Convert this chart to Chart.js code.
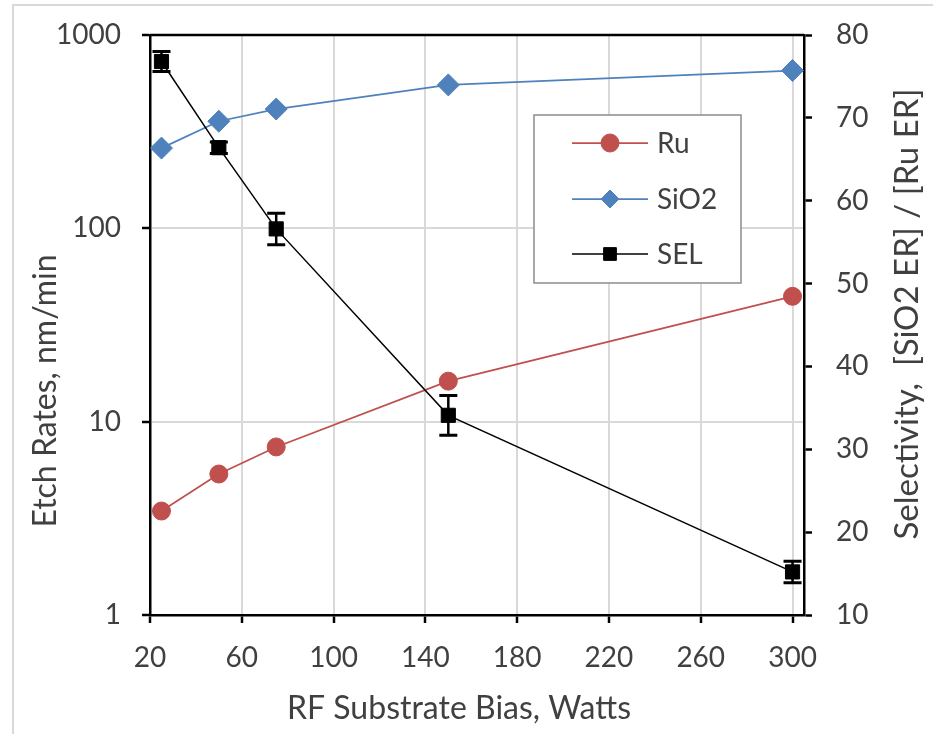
<!DOCTYPE html>
<html><head><meta charset="utf-8">
<script src="https://cdn.jsdelivr.net/npm/chart.js@4.4.0/dist/chart.umd.min.js"></script>
<style>html,body{margin:0;padding:0;background:#fff;}#wrap{width:933px;height:734px;position:relative;}</style>
</head><body><div id="wrap"><canvas id="c" width="933" height="734"></canvas></div>
<script>
// ---- data ----
const biasWatts = [25, 50, 75, 150, 300];
const ruEtch = [3.45, 5.36, 7.4, 16.2, 44.5];
const sio2Etch = [260, 358, 414, 552, 655];
const selectivity = [76.8, 66.4, 56.6, 34.1, 15.2];
const selectivityErr = [1.2, 0.7, 1.9, 2.4, 1.3];
const xTicks = [20, 60, 100, 140, 180, 220, 260, 300];
const etchTicks = [1, 10, 100, 1000];
const selTicks = [10, 20, 30, 40, 50, 60, 70, 80];
const seriesNames = ['Ru', 'SiO2', 'SEL'];
const xTitle = 'RF Substrate Bias, Watts';
const yTitle = 'Etch Rates, nm/min';
const y2Title = 'Selectivity,  [SiO2 ER] / [Ru ER]';

const FONT = 'Lato, "Open Sans", sans-serif';
const FS = 28;
const TXT = '#404040';
const pts = (ys) => biasWatts.map((x, i) => ({x: x, y: ys[i]}));
const noPad = s => { s.paddingTop = 0; s.paddingBottom = 0; s.paddingLeft = 0; s.paddingRight = 0; };

const errorBars = {
  id: 'errorBars',
  afterDatasetsDraw(chart) {
    const ctx = chart.ctx, xs = chart.scales.x, ys = chart.scales.y2;
    ctx.save();
    ctx.strokeStyle = '#000';
    biasWatts.forEach((xv, i) => {
      const px = xs.getPixelForValue(xv);
      const t = ys.getPixelForValue(selectivity[i] + selectivityErr[i]);
      const b = ys.getPixelForValue(selectivity[i] - selectivityErr[i]);
      ctx.lineWidth = 2.5;
      ctx.beginPath(); ctx.moveTo(px, t); ctx.lineTo(px, b); ctx.stroke();
      ctx.lineWidth = 3;
      ctx.beginPath();
      ctx.moveTo(px - 9, t); ctx.lineTo(px + 9, t);
      ctx.moveTo(px - 9, b); ctx.lineTo(px + 9, b);
      ctx.stroke();
    });
    ctx.restore();
  }
};

const decor = {
  id: 'decor',
  beforeDraw(chart) {
    const ctx = chart.ctx;
    ctx.save();
    ctx.fillStyle = '#fff';
    ctx.fillRect(0, 0, chart.width, chart.height);
    ctx.strokeStyle = '#d9d9d9';
    ctx.lineWidth = 2;
    ctx.beginPath();
    ctx.moveTo(13, chart.height); ctx.lineTo(13, 5); ctx.lineTo(chart.width, 5);
    ctx.stroke();
    ctx.restore();
  },
  afterDraw(chart) {
    const ctx = chart.ctx, a = chart.chartArea;
    ctx.save();
    // top border of plot
    ctx.strokeStyle = '#000'; ctx.lineWidth = 2.5;
    ctx.beginPath(); ctx.moveTo(a.left, a.top); ctx.lineTo(a.right, a.top); ctx.stroke();
    // titles
    ctx.fillStyle = TXT;
    ctx.textAlign = 'center'; ctx.textBaseline = 'middle';
    ctx.font = '32px ' + FONT;
    ctx.fillText(xTitle, 459, 709);
    ctx.save(); ctx.translate(46, 391); ctx.rotate(-Math.PI / 2); ctx.fillText(yTitle, 0, 0); ctx.restore();
    ctx.font = '33px ' + FONT;
    ctx.save(); ctx.translate(907, 314); ctx.rotate(-Math.PI / 2); ctx.fillText(y2Title, 0, 0); ctx.restore();
    // legend
    const bx = 534, by = 115, bw = 207, bh = 168;
    ctx.fillStyle = '#fff';
    ctx.fillRect(bx, by, bw, bh);
    ctx.strokeStyle = '#8c8c8c'; ctx.lineWidth = 1.5;
    ctx.strokeRect(bx, by, bw, bh);
    const rows = [143, 199, 254];
    chart.data.datasets.forEach((ds, i) => {
      const y = rows[i];
      ctx.strokeStyle = ds.borderColor; ctx.lineWidth = ds.borderWidth;
      ctx.beginPath(); ctx.moveTo(572, y); ctx.lineTo(648, y); ctx.stroke();
      ctx.fillStyle = ds.backgroundColor;
      ctx.strokeStyle = ds.borderColor;
      ctx.lineWidth = 1;
      Chart.helpers.drawPoint(ctx, {pointStyle: ds.pointStyle, radius: ds.legendRadius, borderWidth: 1}, 610, y);
      ctx.fillStyle = TXT;
      ctx.textAlign = 'left'; ctx.textBaseline = 'middle';
      ctx.font = FS + 'px ' + FONT;
      ctx.fillText(ds.label, 657, y + 1);
    });
    ctx.restore();
  }
};

new Chart(document.getElementById('c'), {
  type: 'line',
  data: {
    datasets: [
      {label: seriesNames[0], data: pts(ruEtch), yAxisID: 'y', borderColor: '#c0504d', backgroundColor: '#c0504d',
       pointStyle: 'circle', pointRadius: 9, legendRadius: 9, borderWidth: 1.75, pointBorderWidth: 1, order: 2},
      {label: seriesNames[1], data: pts(sio2Etch), yAxisID: 'y', borderColor: '#4f81bd', backgroundColor: '#4f81bd',
       pointStyle: 'rectRot', pointRadius: 11, legendRadius: 9, borderWidth: 1.75, pointBorderWidth: 1, order: 1},
      {label: seriesNames[2], data: pts(selectivity), yAxisID: 'y2', borderColor: '#000', backgroundColor: '#000',
       pointStyle: 'rect', pointRadius: 10, legendRadius: 9, borderWidth: 1.5, pointBorderWidth: 1, order: 0}
    ]
  },
  options: {
    responsive: false, devicePixelRatio: 1, animation: false,
    layout: {padding: {top: 35, left: 0, right: 0, bottom: 0}},
    plugins: {legend: {display: false}, tooltip: {enabled: false}},
    elements: {line: {tension: 0}},
    scales: {
      x: {
        type: 'linear', position: 'bottom', min: 20, max: 305,
        afterBuildTicks: s => { s.ticks = xTicks.map(v => ({value: v})); },
        afterFit: s => { s.height = 119; noPad(s); },
        grid: {color: '#d9d9d9', lineWidth: 2, tickColor: '#000', tickLength: 8, tickWidth: 2.5},
        border: {color: '#000', width: 2.5},
        ticks: {font: {family: FONT, size: FS}, color: TXT, padding: 18, maxRotation: 0, callback: v => String(v)}
      },
      y: {
        type: 'logarithmic', position: 'left', min: 1, max: 1000,
        afterBuildTicks: s => { s.ticks = etchTicks.map(v => ({value: v})); },
        afterFit: s => { s.width = 150; noPad(s); },
        grid: {color: '#d9d9d9', lineWidth: 2, tickColor: '#000', tickLength: 8, tickWidth: 2.5},
        border: {color: '#000', width: 2.5},
        ticks: {font: {family: FONT, size: FS}, color: TXT, padding: 21, callback: v => String(v)}
      },
      y2: {
        type: 'linear', position: 'right', min: 10, max: 80,
        afterBuildTicks: s => { s.ticks = selTicks.map(v => ({value: v})); },
        afterFit: s => { s.width = 129; noPad(s); },
        grid: {drawOnChartArea: false, tickColor: '#000', tickLength: 8, tickWidth: 2.5},
        border: {color: '#000', width: 2.5},
        ticks: {font: {family: FONT, size: FS}, color: TXT, padding: 24, callback: v => String(v)}
      }
    }
  },
  plugins: [decor, errorBars]
});
</script></body></html>
